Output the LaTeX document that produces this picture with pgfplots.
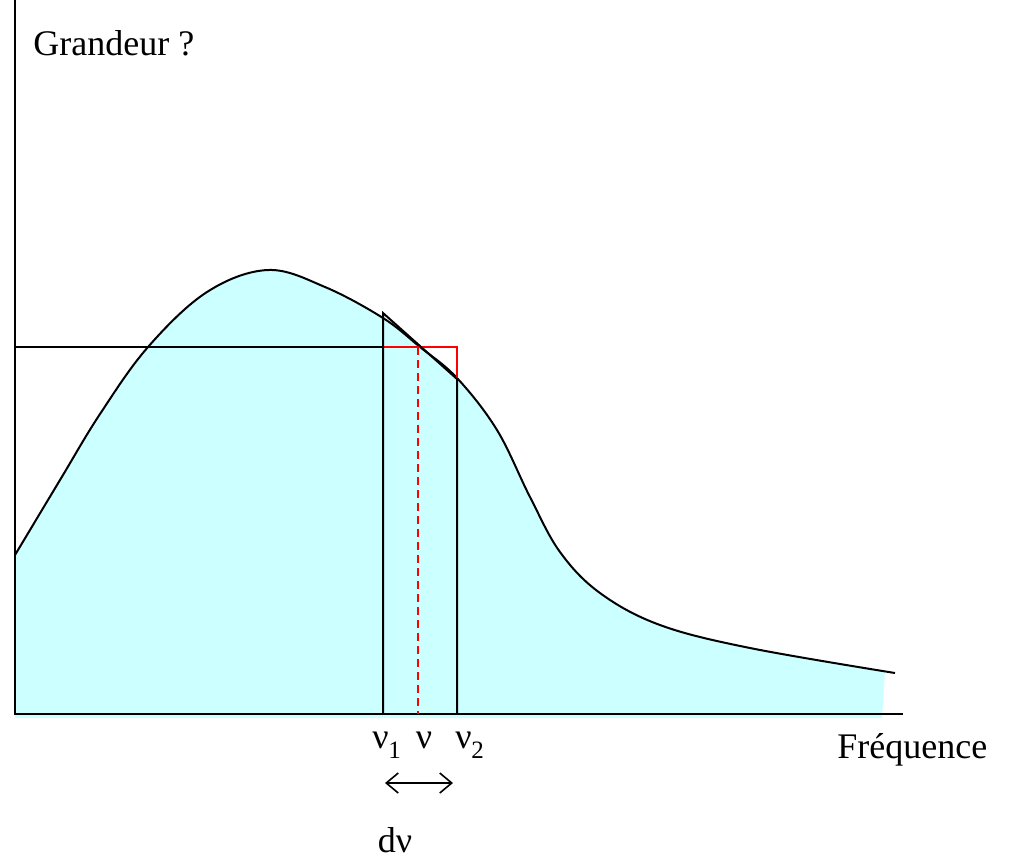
\documentclass[border=0pt]{standalone}
\usepackage{pgfplots}
\pgfplotsset{compat=1.18}
\usetikzlibrary{arrows.meta}
\usepackage{fontspec}
\setmainfont{Liberation Serif}
\definecolor{fillc}{RGB}{204,255,255}
\begin{document}
\fontsize{18}{21}\selectfont
\begin{tikzpicture}
\begin{axis}[
  scale only axis, width=506pt, height=429.5pt,
  xmin=0, xmax=1012, ymin=0, ymax=859, y dir=reverse,
  hide axis, clip=false]
\path[use as bounding box] (axis cs:0,0) rectangle (axis cs:1012,859);
% filled area
\addplot[draw=none, fill=fillc, smooth, tension=0.6] coordinates {
(15,555) (60,480) (100,414) (148,347) (207,292) (268,270) (325,287) (383,318) (420,347) (457,378) (497,430) (530,497) (560,552) (600,593) (660,625) (750,648) (885,671)} -- (axis cs:882,718) -- (axis cs:15,718) -- cycle;
% curve
\addplot[black, line width=1pt, smooth, tension=0.6] coordinates {
(15,555) (60,480) (100,414) (148,347) (207,292) (268,270) (325,287) (383,318) (420,347) (457,378) (497,430) (530,497) (560,552) (600,593) (660,625) (750,648) (895,673)};
% axes
\addplot[black, line width=1pt] coordinates {(15,0) (15,714) (903,714)};
% horizontal line
\addplot[black, line width=1pt] coordinates {(15,347) (383,347)};
% red lines
\addplot[red, line width=1pt] coordinates {(383,347) (457,347) (457,379)};
\addplot[red, line width=1pt, dash pattern=on 4pt off 2.5pt] coordinates {(418,347) (418,714)};
% verticals
\addplot[black, line width=1pt] coordinates {(383,714) (383,313) (457,379) (457,714)};
% arrow
\addplot[black, line width=0.8pt, {Straight Barb[length=6pt,width=10pt]}-{Straight Barb[length=6pt,width=10pt]}] coordinates {(385,783) (453,783)};
% labels
\node[anchor=base west, inner sep=0pt] at (axis cs:33,55) {Grandeur ?};
\node[anchor=base west, inner sep=0pt] at (axis cs:837,758) {Fréquence};
\node[anchor=base east, inner sep=0pt] at (axis cs:389,748) {ν};
\node[anchor=base west, inner sep=0pt] at (axis cs:388,758) {\fontsize{12.5}{14}\selectfont 1};
\node[anchor=base, inner sep=0pt] at (axis cs:424,748) {ν};
\node[anchor=base east, inner sep=0pt] at (axis cs:472,748) {ν};
\node[anchor=base west, inner sep=0pt] at (axis cs:471,758) {\fontsize{12.5}{14}\selectfont 2};
\node[anchor=base, inner sep=0pt] at (axis cs:395,852) {dν};
\end{axis}
\end{tikzpicture}
\end{document}
